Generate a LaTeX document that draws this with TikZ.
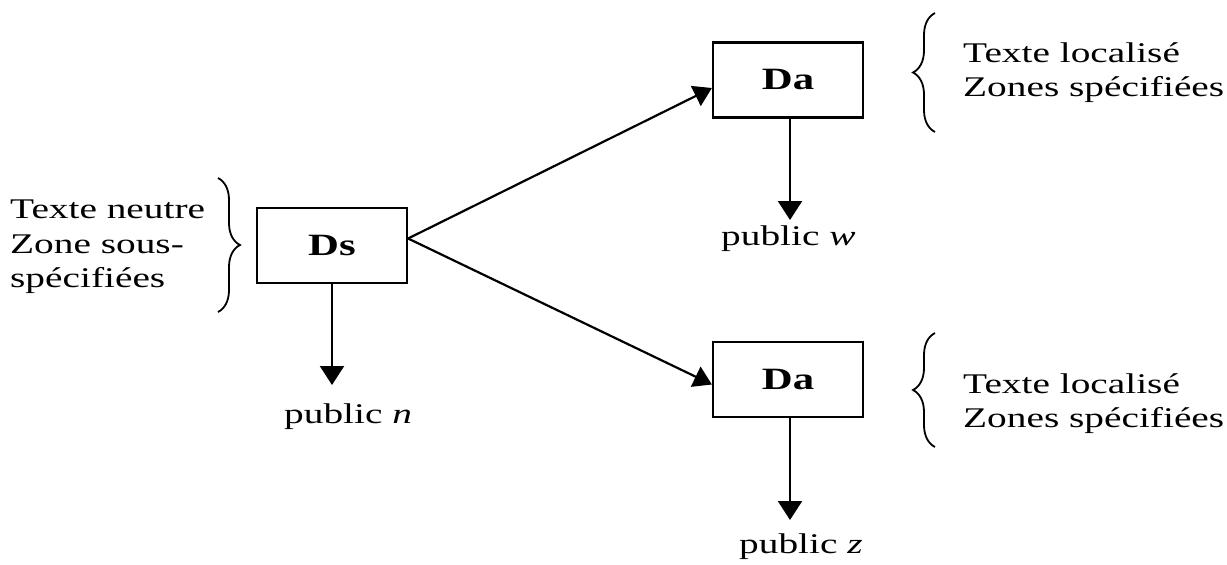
\documentclass[tikz,border=0pt]{standalone}
\usepackage{fontspec}
\setmainfont{Liberation Serif}
\usepackage{graphicx}
\usetikzlibrary{arrows.meta,decorations.pathreplacing}
\newcommand{\stx}[1]{\scalebox{1.38}[1]{#1}}
\begin{document}
\begin{tikzpicture}[x=1pt,y=-1pt,
  every node/.style={font=\fontsize{28.5}{33}\selectfont, inner sep=0pt},
  dbox/.style={draw, line width=2.2pt, minimum width=150pt, minimum height=75pt, font=\fontsize{31}{36}\selectfont\bfseries},
  arr/.style={line width=2.2pt, -{Triangle[width=22pt,length=18pt]}},
  darr/.style={line width=2.2pt, -{Triangle[width=24pt,length=19pt]}},
  brc/.style={line width=1.8pt, decorate, decoration={brace, amplitude=22pt}},
  lbl/.style={anchor=base west}
]
\useasboundingbox (0,0) rectangle (1227,565);
\fill[white] (0,0) rectangle (1227,565);

\node[dbox] (ds) at (332,245.5) {\stx{Ds}};
\node[dbox] (da1) at (788,80) {\stx{Da}};
\node[dbox] (da2) at (788,379.5) {\stx{Da}};

\coordinate (tn) at (332,385);
\coordinate (tw) at (790,220);
\coordinate (tz) at (790,520);

\draw[darr] (ds.south) -- (tn);
\draw[darr] (da1.south -| tw) -- (tw);
\draw[darr] (da2.south -| tz) -- (tz);

\draw[arr] ([yshift=7pt]ds.east) -- ([yshift=-8pt]da1.west);
\draw[arr] ([yshift=7pt]ds.east) -- ([yshift=-5pt]da2.west);

\node[lbl] (ln) at (284,423) {\stx{public \textit{n}}};
\node[lbl] (lw) at (721,245) {\stx{public \textit{w}}};
\node[lbl] (lz) at (739,553) {\stx{public \textit{z}}};

\node[lbl] (t1) at (10,218) {\stx{Texte neutre}};
\node[lbl] (t2) at (10,253) {\stx{Zone sous-}};
\node[lbl] (t3) at (10,287) {\stx{spécifiées}};

\node[lbl] (r1) at (963,62) {\stx{Texte localisé}};
\node[lbl] (r2) at (963,96) {\stx{Zones spécifiées}};
\node[lbl] (r3) at (963,393) {\stx{Texte localisé}};
\node[lbl] (r4) at (963,427) {\stx{Zones spécifiées}};

\coordinate (b1a) at (218,178);
\coordinate (b1b) at (218,312);
\draw[brc] (b1a) -- (b1b);
\coordinate (b2a) at (935,132);
\coordinate (b2b) at (935,13);
\draw[brc] (b2a) -- (b2b);
\coordinate (b3a) at (935,447);
\coordinate (b3b) at (935,333);
\draw[brc] (b3a) -- (b3b);
\end{tikzpicture}
\end{document}
